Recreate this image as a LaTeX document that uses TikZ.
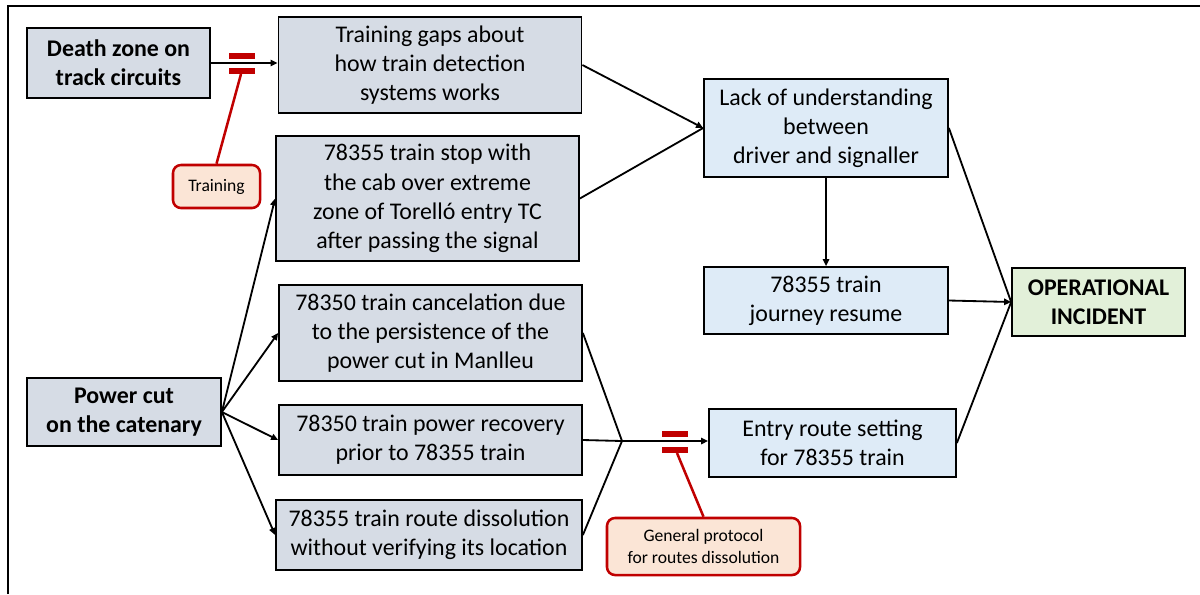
\documentclass[tikz,border=0pt]{standalone}
\usepackage{fontspec}
\setmainfont{Carlito}
\usetikzlibrary{arrows.meta}

\definecolor{greybox}{HTML}{D6DCE5}
\definecolor{bluebox}{HTML}{DEEBF7}
\definecolor{greenbox}{HTML}{E2F0D9}
\definecolor{barrierfill}{HTML}{FBE5D6}
\definecolor{barrierred}{HTML}{C00000}

\tikzset{
  box/.style={draw, line width=1.2pt, align=center, inner sep=0pt,
    font=\fontsize{17}{20.8}\selectfont},
  cause/.style={box, fill=greybox},
  effect/.style={box, fill=bluebox},
  result/.style={box, fill=greenbox, font=\fontsize{17}{20.8}\selectfont\bfseries},
  barrier/.style={draw=barrierred, line width=1.8pt, fill=barrierfill, rounded corners=0.2cm,
    align=center, inner sep=0pt, font=\fontsize{12.5}{15.5}\selectfont},
  arr/.style={line width=1.3pt, -{Triangle[length=5pt, width=4.5pt]}},
  link/.style={line width=1.3pt},
  redline/.style={barrierred, line width=1.8pt},
  redbar/.style={fill=barrierred, draw=none}
}

\begin{document}
\begin{tikzpicture}[x=0.025cm, y=-0.025cm]
        \useasboundingbox (0,0) rectangle (1200,594);

        % Frame
        \draw[line width=0.8pt] (8,594) -- (8,6) -- (1200,6);

        % Root causes
        \node[cause, font=\fontsize{17}{20.8}\selectfont\bfseries, minimum width=4.575cm, minimum height=1.75cm] (death) at (118.5,63) {Death zone on\\track circuits};
        \node[cause, font=\fontsize{17}{20.8}\selectfont\bfseries, minimum width=4.85cm, minimum height=1.7cm] (power) at (124,412) {Power cut\\on the catenary};

        % Intermediate events
        \node[cause, minimum width=7.575cm, minimum height=2.4cm] (gaps) at (430,65) {Training gaps about\\how train detection\\systems works};
        \node[cause, minimum width=7.575cm, minimum height=3.125cm] (stop) at (427.5,198.5) {78355 train stop with\\the cab over extreme\\zone of Torelló entry TC\\after passing the signal};
        \node[cause, minimum width=7.575cm, minimum height=2.4cm] (cancel) at (430.5,333) {78350 train cancelation due\\to the persistence of the\\power cut in Manlleu};
        \node[cause, minimum width=7.575cm, minimum height=1.75cm] (recovery) at (430.5,440) {78350 train power recovery\\prior to 78355 train};
        \node[cause, minimum width=7.65cm, minimum height=1.75cm] (dissol) at (429,535) {78355 train route dissolution\\without verifying its location};

        % Consequences
        \node[effect, minimum width=6.1cm, minimum height=2.45cm] (lack) at (826,128) {Lack of understanding\\between\\driver and signaller};
        \node[effect, minimum width=6.1cm, minimum height=1.675cm] (resume) at (826,300.5) {78355 train\\journey resume};
        \node[effect, minimum width=6.175cm, minimum height=1.7cm] (entry) at (832.5,443) {Entry route setting\\for 78355 train};
        \node[result, minimum width=4.325cm, minimum height=1.7cm] (incident) at (1098.5,302) {OPERATIONAL\\INCIDENT};

        % Barriers
        \node[barrier, minimum width=2.175cm, minimum height=1.075cm] (training) at (216.5,186.5) {Training};
        \node[barrier, minimum width=4.825cm, minimum height=1.425cm] (protocol) at (703.5,546.5) {General protocol\\for routes dissolution};

        % Connectors
        \draw[arr] (death.east) -- (gaps.west |- death.east);
        \draw[arr] (gaps.east) -- (lack.west);
        \draw[link] (stop.east) -- (lack.west);
        \draw[arr] (lack.south) -- (resume.north);
        \draw[link] (lack.east) -- (incident.west);
        \draw[arr] (resume.east) -- (incident.west);
        \draw[link] (entry.east) -- (incident.west);

        \draw[arr] (power.east) -- (stop.west);
        \draw[arr] (power.east) -- (cancel.west);
        \draw[arr] (power.east) -- (recovery.west);
        \draw[arr] (power.east) -- (dissol.west);

        \coordinate (merge) at (622,441);
        \draw[link] (cancel.east) -- (merge);
        \draw[link] (recovery.east) -- (merge);
        \draw[link] (dissol.east) -- (merge);
        \draw[arr] (merge) -- (entry.west |- merge);

        % Barrier bars
        \fill[redbar] (229,53) rectangle (255,59);
        \fill[redbar] (229,68) rectangle (255,74);
        \coordinate (trainbar) at (241,74);
        \draw[redline] (trainbar) -- (training.north);

        \fill[redbar] (662,431) rectangle (688,437);
        \fill[redbar] (662,447) rectangle (688,453);
        \coordinate (protobar) at (677,453);
        \draw[redline] (protobar) -- (protocol.north);
\end{tikzpicture}
\end{document}
